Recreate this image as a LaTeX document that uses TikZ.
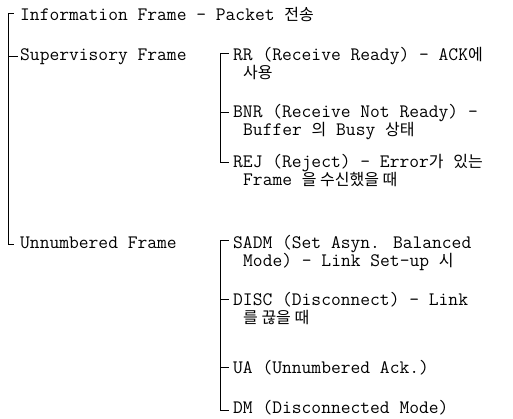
\documentclass[tikz,border=0pt]{standalone}
\usepackage{fontspec}
\newfontfamily\krfont{Noto Sans CJK KR}
\newcommand\K[1]{{\krfont\fontsize{16}{18}\selectfont #1}}
\begin{document}
\begin{tikzpicture}[x=1pt,y=-1pt,
  lbl/.style={anchor=base west,inner sep=0pt,font=\ttfamily\fontsize{19}{18}\selectfont},
  br/.style={line width=0.8pt,black}]
\useasboundingbox (0,0) rectangle (513,418);
% level 1
\node[lbl] (info) at (20,20) {Information Frame - Packet \K{전송}};
\node[lbl] (sup)  at (20,60) {Supervisory Frame};
\node[lbl] (unn)  at (20,248) {Unnumbered Frame};
% supervisory items
\node[lbl] (rr)   at (233,60)  {RR (Receive Ready) - ACK\K{에}};
\node[lbl] (rr2)  at (243,78)  {\K{사용}};
\node[lbl] (bnr)  at (233,117) {BNR (Receive Not Ready) -};
\node[lbl] (bnr2) at (243,135) {Buffer \K{의} Busy \K{상태}};
\node[lbl] (rej)  at (233,167) {REJ (Reject) - Error\K{가} \K{있는}};
\node[lbl] (rej2) at (243,185) {Frame \K{을 수신했을 때}};
% unnumbered items
\node[lbl] (sadm) at (233,248) {SADM (Set Asyn. Balanced};
\node[lbl] (sadm2)at (243,266) {Mode) - Link Set-up \K{시}};
\node[lbl] (disc) at (233,305) {DISC (Disconnect) - Link};
\node[lbl] (disc2)at (243,323) {\K{를 끊을 때}};
\node[lbl] (ua)   at (233,373) {UA (Unnumbered Ack.)};
\node[lbl] (dm)   at (233,413) {DM (Disconnected Mode)};
% bracket 1
\coordinate (a1) at (8,13);
\coordinate (a2) at (8,244);
\draw[br] (a1) -- (a2);
\draw[br] (a1) -- ([xshift=-6pt]a1 -| info.west);
\draw[br] (sup.west -| a1) -- ([xshift=-2pt]sup.west);
\draw[br] (a2) -- ([xshift=-6pt]a2 -| unn.west);
% bracket 2
\coordinate (b1) at (220,53);
\coordinate (b2) at (220,162);
\draw[br] (b1) -- (b2);
\draw[br] (b1) -- ([xshift=-4pt]b1 -| rr.west);
\draw[br] (bnr.west -| b1) -- ([xshift=-4pt]bnr.west);
\draw[br] (b2) -- ([xshift=-4pt]b2 -| rej.west);
% bracket 3
\coordinate (c1) at (220,240);
\coordinate (c2) at (220,410);
\draw[br] (c1) -- (c2);
\draw[br] (c1) -- ([xshift=-4pt]c1 -| sadm.west);
\draw[br] (disc.west -| c1) -- ([xshift=-4pt]disc.west);
\draw[br] (ua.west -| c1) -- ([xshift=-4pt]ua.west);
\draw[br] (c2) -- ([xshift=-4pt]c2 -| dm.west);
\end{tikzpicture}
\end{document}
